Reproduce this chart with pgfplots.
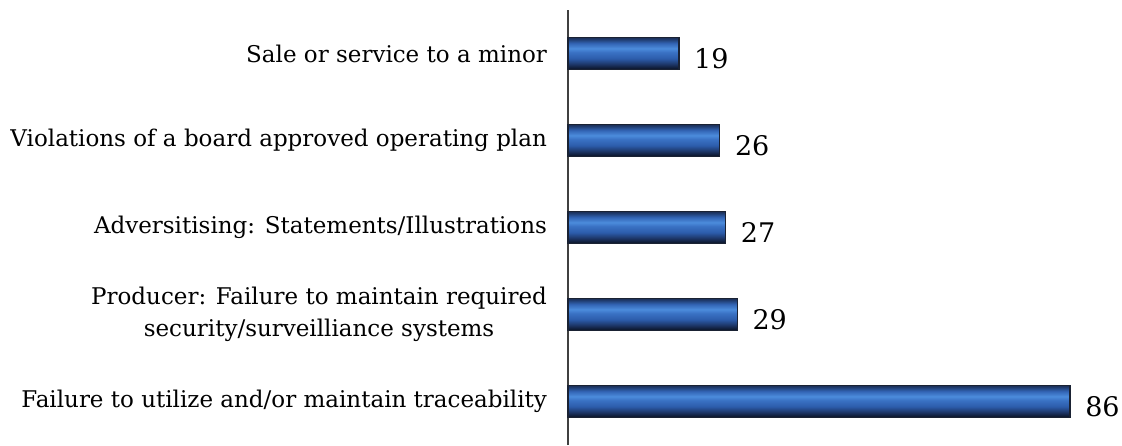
\documentclass[border=0pt]{standalone}
\usepackage{pgfplots}
\pgfplotsset{compat=1.18}
\usepackage{fontspec}
\setmainfont{DejaVu Serif}
\definecolor{barline}{HTML}{1A2233}
\pgfdeclareverticalshading{barshade}{100bp}{%
  color(0bp)=(black!60!blue!40!black);
  color(25bp)=(black!70!blue!30!black);
  color(27bp)=({rgb,255:red,14;green,26;blue,50});
  color(33bp)=({rgb,255:red,28;green,52;blue,100});
  color(42bp)=({rgb,255:red,44;green,92;blue,170});
  color(52bp)=({rgb,255:red,58;green,114;blue,196});
  color(58bp)=({rgb,255:red,76;green,140;blue,220});
  color(66bp)=({rgb,255:red,50;green,100;blue,180});
  color(73bp)=({rgb,255:red,30;green,56;blue,104});
  color(75bp)=({rgb,255:red,26;green,46;blue,86});
  color(100bp)=({rgb,255:red,26;green,46;blue,86})}
\pgfplotsset{barstyle/.style={draw=barline, line width=0.6pt, shading=barshade, bar shift=0pt}}
\begin{document}
\begin{tikzpicture}
\begin{axis}[
  scale only axis,
  width=277pt, height=217.5pt,
  xmin=0, xmax=94.9,
  ymin=-0.5, ymax=4.5,
  axis x line=none,
  axis y line*=left,
  y axis line style={-, draw=black!75, line width=0.9pt},
  ytick={0,1,2,3,4},
  yticklabels={Failure to utilize and/or maintain traceability,
    {Producer: Failure to maintain required\\security/surveilliance systems},
    Adversitising: Statements/Illustrations,
    Violations of a board approved operating plan,
    Sale or service to a minor},
  major tick length=0pt,
  yticklabel style={align=center, font=\fontsize{11.5}{16}\selectfont, xshift=-7pt},
  xbar, bar width=16pt,
  nodes near coords,
  every node near coord/.append style={font=\fontsize{13.5}{15}\selectfont, xshift=4pt, yshift=-2.5pt, text=black, /pgf/number format/assume math mode=true},
  clip=false,
]
\addplot[barstyle] coordinates {(86,0)};
\addplot[barstyle] coordinates {(29,1)};
\addplot[barstyle] coordinates {(27,2)};
\addplot[barstyle] coordinates {(26,3)};
\addplot[barstyle] coordinates {(19,4)};
\end{axis}
\pgfresetboundingbox
\path (-284pt,0pt) rectangle (277pt,222.5pt);
\end{tikzpicture}
\end{document}
